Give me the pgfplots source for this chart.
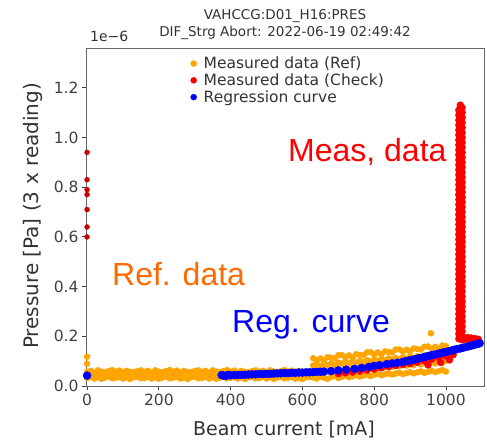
\documentclass[border=0pt]{standalone}
\usepackage{fontspec}
\setmainfont{DejaVu Sans}
\newfontfamily\arial{Liberation Sans}
\usepackage{pgfplots}
\usepackage{pgfplotstable}
\pgfplotsset{compat=1.18}
\definecolor{refc}{HTML}{FFA500}
\definecolor{chkc}{HTML}{FF0000}
\definecolor{regc}{HTML}{0000FF}
\definecolor{refTxt}{HTML}{FF6A00}

% Ref data, low-current band
\pgfplotstableread{
x a b c
0 .032 .046 .057
10 .037 .041 .061
20 .030 .049 .054
30 .035 .044 .063
40 .029 .052 .058
50 .034 .043 .055
60 .038 .047 .060
70 .031 .040 .064
80 .033 .045 .058
90 .036 .042 .062
100 .030 .050 .055
110 .034 .044 .061
120 .028 .051 .057
130 .035 .043 .056
140 .037 .048 .060
150 .031 .041 .063
160 .032 .046 .057
170 .037 .041 .061
180 .030 .049 .054
190 .035 .044 .063
200 .029 .052 .058
210 .034 .043 .055
220 .038 .047 .060
230 .031 .040 .064
240 .033 .045 .058
250 .036 .042 .062
260 .030 .050 .055
270 .034 .044 .061
280 .028 .051 .057
290 .035 .043 .056
300 .037 .048 .060
310 .031 .041 .063
320 .032 .046 .057
330 .037 .041 .061
340 .030 .049 .054
350 .035 .044 .063
360 .029 .052 .058
370 .034 .043 .055
380 .038 .047 .060
390 .031 .040 .064
400 .033 .045 .058
410 .036 .042 .062
420 .030 .050 .055
430 .034 .044 .061
440 .028 .051 .057
450 .035 .043 .056
460 .037 .048 .060
470 .031 .041 .063
480 .032 .046 .057
490 .037 .041 .061
500 .030 .049 .054
510 .035 .044 .063
520 .029 .052 .058
530 .034 .043 .055
540 .038 .047 .060
550 .031 .040 .064
560 .033 .045 .058
570 .036 .042 .062
580 .030 .050 .055
590 .034 .044 .061
600 .028 .051 .057
610 .035 .043 .056
620 .037 .048 .060
}\refA

% Ref data, high-current band
\pgfplotstableread{
x d c b a
630 .112 .083 .058 .034
640 .104 .088 .062 .030
650 .111 .080 .055 .038
660 .104 .089 .064 .033
670 .116 .084 .057 .029
680 .114 .091 .066 .036
690 .112 .085 .059 .040
700 .124 .094 .068 .032
710 .124 .090 .061 .037
720 .116 .097 .070 .041
730 .123 .092 .063 .035
740 .115 .099 .072 .039
750 .128 .094 .066 .044
760 .125 .101 .074 .038
770 .124 .096 .068 .042
780 .135 .104 .077 .046
790 .136 .099 .070 .040
800 .127 .106 .079 .045
810 .135 .101 .073 .049
820 .127 .109 .081 .043
830 .139 .103 .075 .047
840 .137 .111 .084 .051
850 .135 .106 .077 .046
860 .147 .113 .086 .050
870 .147 .108 .080 .054
880 .139 .116 .088 .048
890 .146 .110 .082 .052
900 .139 .118 .091 .056
910 .151 .113 .084 .051
920 .149 .120 .093 .055
930 .147 .115 .087 .059
940 .158 .123 .095 .053
950 .159 .117 .089 .057
960 .150 .125 .098 .061
970 .158 .120 .091 .056
980 .150 .127 .100 .060
990 .163 .122 .094 .064
1000 .160 .129 .102 .058
}\refB

% Ref data, outliers
\pgfplotstableread{
x y
0 .118
0 .090
958 .212
1000 .140
}\refC

% Check data: spike near 1040 mA
\pgfplotstableread{
x y
1036 0.19
1045 0.20
1036 0.21
1045 0.22
1036 0.23
1045 0.24
1036 0.25
1045 0.26
1036 0.27
1045 0.28
1036 0.29
1045 0.30
1036 0.31
1045 0.32
1036 0.33
1045 0.34
1036 0.35
1045 0.36
1036 0.37
1045 0.38
1036 0.39
1045 0.40
1036 0.41
1045 0.42
1036 0.43
1045 0.44
1036 0.45
1045 0.46
1036 0.47
1045 0.48
1036 0.49
1045 0.50
1036 0.51
1045 0.52
1036 0.53
1045 0.54
1036 0.55
1045 0.56
1036 0.57
1045 0.58
1036 0.59
1045 0.60
1036 0.61
1045 0.62
1036 0.63
1045 0.64
1036 0.65
1045 0.66
1036 0.67
1045 0.68
1036 0.69
1045 0.70
1036 0.71
1045 0.72
1036 0.73
1045 0.74
1036 0.75
1045 0.76
1036 0.77
1045 0.78
1036 0.79
1045 0.80
1036 0.81
1045 0.82
1036 0.83
1045 0.84
1036 0.85
1045 0.86
1036 0.87
1045 0.88
1036 0.89
1045 0.90
1036 0.91
1045 0.92
1036 0.93
1045 0.94
1036 0.95
1045 0.96
1036 0.97
1045 0.98
1036 0.99
1045 1.00
1036 1.01
1045 1.02
1036 1.03
1045 1.04
1036 1.05
1045 1.06
1036 1.07
1045 1.08
1036 1.09
1045 1.10
1036 1.11
1045 1.12
1040 1.13
}\chkSpike

% Check data: others
\pgfplotstableread{
x y
700 .050
720 .053
740 .056
760 .060
780 .064
800 .068
820 .073
840 .078
860 .082
880 .086
900 .090
920 .096
940 .102
950 .085
960 .108
980 .114
985 .095
1000 .120
1010 .105
1020 .126
1040 .192
1045 .186
1050 .194
1055 .188
1060 .195
1065 .189
1070 .193
1075 .187
1080 .191
1085 .185
1090 .188
}\chkOther

% Check data at zero current
\pgfplotstableread{
x y
0 0.60
0 0.64
0 0.71
0 0.77
0 0.79
0 0.83
0 0.94
}\chkZero

% Regression curve
\pgfplotstableread{
x y
0 .042
375 .044
380 .042
385 .040
390 .043
395 .045
400 .043
410 .044
420 .044
430 .045
440 .045
450 .046
460 .047
470 .047
480 .048
490 .048
500 .049
510 .049
520 .050
530 .051
540 .051
550 .052
560 .052
570 .053
580 .053
590 .054
600 .054
610 .055
620 .055
630 .056
640 .057
650 .057
660 .058
680 .060
700 .063
722 .066
745 .069
765 .073
785 .077
800 .081
815 .084
835 .088
850 .091
865 .094
880 .097
888 .100
896 .102
904 .105
912 .107
920 .110
928 .113
936 .115
944 .118
952 .121
960 .124
968 .126
976 .129
984 .132
992 .135
1000 .137
1008 .140
1016 .143
1024 .146
1032 .149
1040 .151
1048 .154
1056 .157
1064 .160
1072 .163
1080 .166
1088 .169
1094 .172
}\reg

\begin{document}
\begin{tikzpicture}[x=1pt,y=1pt]
\useasboundingbox (0,0) rectangle (487,442);
\begin{axis}[
  at={(86pt,56pt)}, anchor=south west,
  scale only axis, width=398pt, height=338pt,
  xmin=-3, xmax=1106, ymin=0, ymax=1.36,
  xtick={0,200,400,600,800,1000},
  ytick={0,0.2,0.4,0.6,0.8,1.0,1.2},
  scaled y ticks=false, scaled x ticks=false,
  xticklabel style={/pgf/number format/.cd, 1000 sep={}},
  yticklabel style={/pgf/number format/.cd, fixed, precision=1, fixed zerofill},
  /pgf/number format/assume math mode=true,
  ticklabel style={font=\fontsize{15.5}{18}\selectfont, text=black!75},
  tick pos=left, tick align=outside, major tick length=4pt,
  tick style={black!75, line width=0.8pt},
  axis line style={black!60, line width=0.8pt},
  legend style={at={(0.26,0.983)}, anchor=north west, draw=none, fill=none,
    font=\fontsize{15.5}{17}\selectfont, text=black!80, row sep=-0.5pt,
    column sep=3pt, inner sep=1pt, nodes={inner xsep=4pt}},
  legend image code/.code={\draw[#1, mark size=3pt] plot coordinates {(0.1cm,0cm)};},
  legend cell align=left,
  clip mode=individual,
]
\addplot[only marks, mark=*, color=refc, mark size=3pt] table[x=x,y=a] {\refA};
\addlegendentry{Measured data (Ref)}
\addplot[only marks, mark=*, color=refc, mark size=3pt, forget plot] table[x=x,y=b] {\refA};
\addplot[only marks, mark=*, color=refc, mark size=3pt, forget plot] table[x=x,y=c] {\refA};
\addplot[only marks, mark=*, color=refc, mark size=3pt, forget plot] table[x=x,y=a] {\refB};
\addplot[only marks, mark=*, color=refc, mark size=3pt, forget plot] table[x=x,y=b] {\refB};
\addplot[only marks, mark=*, color=refc, mark size=3pt, forget plot] table[x=x,y=c] {\refB};
\addplot[only marks, mark=*, color=refc, mark size=3pt, forget plot] table[x=x,y=d] {\refB};
\addplot[only marks, mark=*, color=refc, mark size=3pt, forget plot] table[x=x,y=y] {\refC};
\addplot[only marks, mark=*, color=chkc, mark size=3.5pt] table[x=x,y=y] {\chkSpike};
\addlegendentry{Measured data (Check)}
\addplot[only marks, mark=*, color=chkc, mark size=3.5pt, forget plot] table[x=x,y=y] {\chkOther};
\addplot[only marks, mark=*, color=chkc!80!black, mark size=2.5pt, forget plot] table[x=x,y=y] {\chkZero};
\addplot[only marks, mark=*, color=regc, mark size=4pt] table[x=x,y=y] {\reg};
\addlegendentry{Regression curve}
\end{axis}
% titles and labels
\node[anchor=base, font=\fontsize{13.5}{16}\selectfont, text=black!80, inner sep=0] at (285,422) {VAHCCG:D01\_H16:PRES};
\node[anchor=base, font=\fontsize{13.5}{16}\selectfont, text=black!80, inner sep=0] at (285,405) {DIF\_Strg Abort: 2022-06-19 02:49:42};
\node[anchor=base west, font=\fontsize{14}{16}\selectfont, text=black!80, inner sep=0] at (90,400) {1e\textminus6};
\node[anchor=base, font=\fontsize{19}{22}\selectfont, text=black!80, inner sep=0] at (284,7) {Beam current [mA]};
\node[anchor=center, rotate=90, font=\fontsize{20}{24}\selectfont, text=black!80, inner sep=0] at (33,226) {Pressure [Pa] (3 x reading)};
% annotations
\node[anchor=base west, font=\arial\fontsize{32}{36}\selectfont, text=chkc, inner sep=0] at (288,280) {Meas, data};
\node[anchor=base west, font=\arial\fontsize{32}{36}\selectfont, text=refTxt, inner sep=0] at (112,156) {Ref. data};
\node[anchor=base west, font=\arial\fontsize{32}{36}\selectfont, text=regc, inner sep=0] at (232,110) {Reg. curve};
\end{tikzpicture}
\end{document}
